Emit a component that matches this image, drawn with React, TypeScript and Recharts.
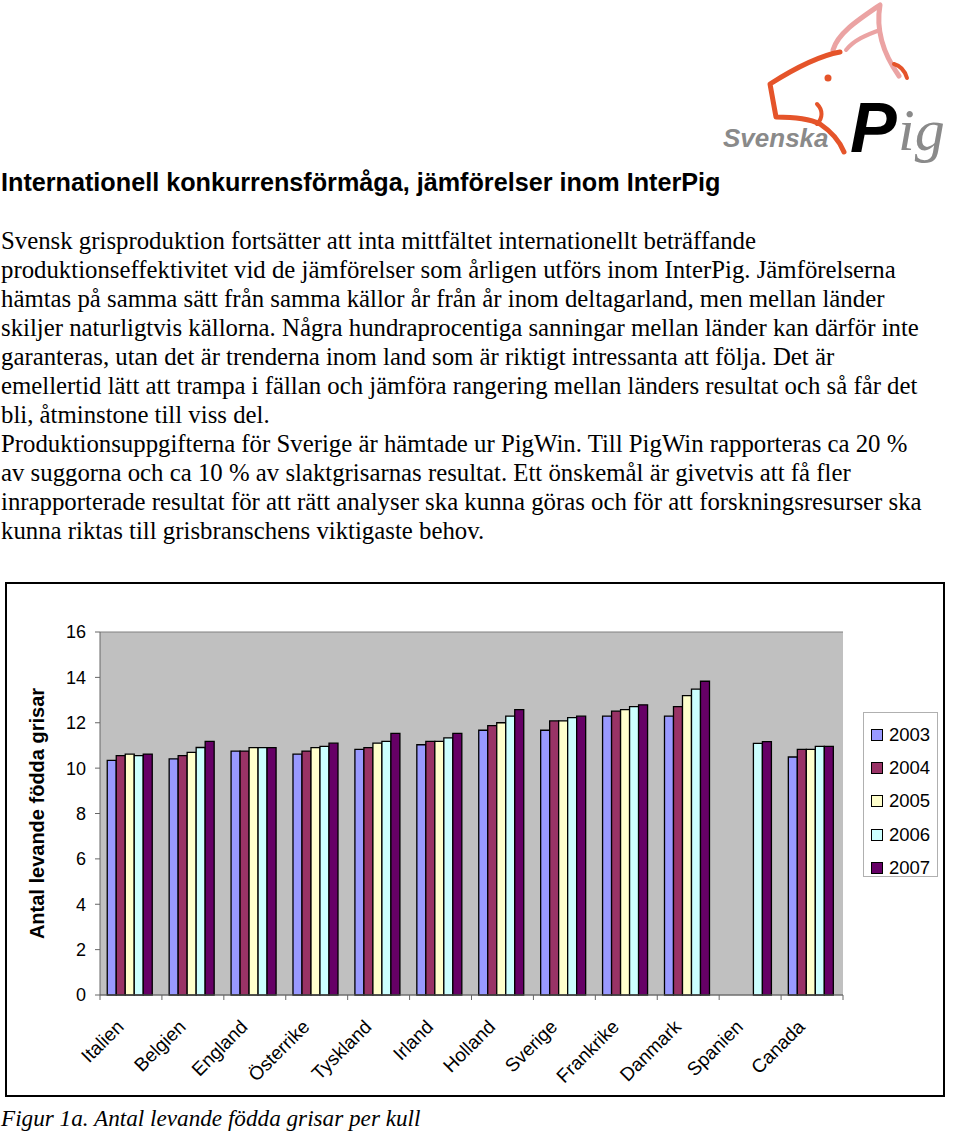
import React from 'react';
import { BarChart, Bar, XAxis, YAxis, CartesianGrid, Legend } from 'recharts';

const countries = ['Italien', 'Belgien', 'England', 'Österrike', 'Tyskland', 'Irland', 'Holland', 'Sverige', 'Frankrike', 'Danmark', 'Spanien', 'Canada'];
const years = ['2003', '2004', '2005', '2006', '2007'];
const v2003 = [10.34, 10.41, 10.75, 10.62, 10.83, 11.03, 11.67, 11.67, 12.29, 12.29, null, 10.49];
const v2004 = [10.55, 10.55, 10.75, 10.75, 10.9, 11.18, 11.87, 12.08, 12.51, 12.71, null, 10.83];
const v2005 = [10.62, 10.69, 10.9, 10.9, 11.1, 11.18, 12.0, 12.08, 12.58, 13.2, null, 10.83];
const v2006 = [10.55, 10.91, 10.9, 10.96, 11.18, 11.33, 12.29, 12.23, 12.71, 13.48, 11.09, 10.96];
const v2007 = [10.62, 11.18, 10.9, 11.1, 11.53, 11.53, 12.58, 12.29, 12.79, 13.83, 11.17, 10.96];
const yTicks = [0, 2, 4, 6, 8, 10, 12, 14, 16];
const colors = ['#9999FF', '#993366', '#FFFFCC', '#CCFFFF', '#660066'];

const titleText = 'Internationell konkurrensförmåga, jämförelser inom InterPig';
const bodyLines = [
  'Svensk grisproduktion fortsätter att inta mittfältet internationellt beträffande',
  'produktionseffektivitet vid de jämförelser som årligen utförs inom InterPig. Jämförelserna',
  'hämtas på samma sätt från samma källor år från år inom deltagarland, men mellan länder',
  'skiljer naturligtvis källorna. Några hundraprocentiga sanningar mellan länder kan därför inte',
  'garanteras, utan det är trenderna inom land som är riktigt intressanta att följa. Det är',
  'emellertid lätt att trampa i fällan och jämföra rangering mellan länders resultat och så får det',
  'bli, åtminstone till viss del.',
  'Produktionsuppgifterna för Sverige är hämtade ur PigWin. Till PigWin rapporteras ca 20 %',
  'av suggorna och ca 10 % av slaktgrisarnas resultat. Ett önskemål är givetvis att få fler',
  'inrapporterade resultat för att rätt analyser ska kunna göras och för att forskningsresurser ska',
  'kunna riktas till grisbranschens viktigaste behov.',
];
const captionText = 'Figur 1a. Antal levande födda grisar per kull';
const yLabel = 'Antal levande födda grisar';

const data = countries.map((c, i) => ({
  name: c,
  '2003': v2003[i],
  '2004': v2004[i],
  '2005': v2005[i],
  '2006': v2006[i],
  '2007': v2007[i],
}));

const FONT = '"Liberation Sans", Arial, sans-serif';
const SERIF = '"Liberation Serif", "Times New Roman", serif';

const XTick = (props: any) => {
  const { x, y, payload, index } = props;
  const half = 743 / 12 / 2;
  const tx = x - 6;
  const ty = y + 25;
  return (
    <g>
      <line x1={x - half} y1={y - 8} x2={x - half} y2={y - 3} stroke="#666" />
      {index === countries.length - 1 && (
        <line x1={x + half} y1={y - 8} x2={x + half} y2={y - 3} stroke="#666" />
      )}
      <text
        x={tx}
        y={ty}
        transform={`rotate(-45, ${tx}, ${ty})`}
        textAnchor="end"
        fontFamily={FONT}
        fontSize={19}
        fill="#000"
      >
        {payload.value}
      </text>
    </g>
  );
};

const YLabel = (props: any) => {
  const vb = props.viewBox || { x: 0, y: 0, width: 0, height: 0 };
  const cx = vb.x - 3;
  const cy = vb.y + vb.height / 2;
  return (
    <text
      x={cx}
      y={cy}
      transform={`rotate(-90, ${cx}, ${cy})`}
      textAnchor="middle"
      dominantBaseline="central"
      fontFamily={FONT}
      fontWeight="bold"
      fontSize={20}
      fill="#000"
    >
      {yLabel}
    </text>
  );
};

const LegendBox = () => (
  <div
    style={{
      border: '1px solid #b0b0b0',
      width: 75,
      height: 165,
      boxSizing: 'border-box',
      paddingTop: 5,
      background: '#fff',
    }}
  >
    {years.map((y, i) => (
      <div key={y} style={{ display: 'flex', alignItems: 'center', height: 33.4, paddingLeft: 7 }}>
        <span
          style={{
            display: 'inline-block',
            width: 10,
            height: 10,
            background: colors[i],
            border: '1px solid #000',
            marginRight: 6,
          }}
        />
        <span style={{ fontFamily: FONT, fontSize: 18.5, color: '#000' }}>{y}</span>
      </div>
    ))}
  </div>
);

const Logo = () => (
  <svg width={260} height={180} style={{ position: 'absolute', left: 700, top: 0 }}>
    <g fill="none" strokeLinecap="round" strokeLinejoin="round">
      <path d="M133,50 C138,33 158,20 180,5 C176,28 182,52 199,76" stroke="#EBA3A3" strokeWidth={5} />
      <path d="M146,50 C154,40 166,35 180,30" stroke="#EBA3A3" strokeWidth={4} />
      <path d="M140,52 C118,56 92,70 70,84 L76,117 C92,117 108,118 120,124 C132,132 140,142 144,152" stroke="#E5542A" strokeWidth={5} />
      <path d="M117,104 C123,110 123,118 117,124" stroke="#E5542A" strokeWidth={4} />
      <path d="M194,64 C201,66 205,71 207,78" stroke="#E5542A" strokeWidth={4} />
    </g>
    <circle cx={128} cy={78} r={3.5} fill="#E5542A" />
    <text x={23} y={147} fontFamily={FONT} fontWeight="bold" fontStyle="italic" fontSize={26} fill="#8a8a8a">Svenska</text>
    <text x={150} y={152} fontFamily={FONT} fontWeight="900" fontStyle="italic" fontSize={70} fill="#000">P</text>
    <text x={198} y={150} fontFamily={SERIF} fontStyle="italic" fontSize={60} fill="#8a8a8a">ig</text>
  </svg>
);

export default function App() {
  return (
    <div style={{ position: 'absolute', left: 0, top: 0, width: 960, height: 1131, background: '#fff', overflow: 'hidden' }}>
      <Logo />
      <div style={{ position: 'absolute', left: 1, top: 167, fontFamily: FONT, fontWeight: 'bold', fontSize: 25.2, lineHeight: '30px', whiteSpace: 'nowrap' }}>
        {titleText}
      </div>
      {bodyLines.map((l, i) => (
        <div
          key={i}
          style={{ position: 'absolute', left: 1, top: 226 + i * 29, fontFamily: SERIF, fontSize: 24.8, lineHeight: '29px', whiteSpace: 'nowrap' }}
        >
          {l}
        </div>
      ))}
      <div style={{ position: 'absolute', left: 5, top: 582, width: 936, height: 511, border: '2px solid #000' }}>
        <BarChart
          width={936}
          height={511}
          data={data}
          margin={{ top: 48, right: 100, left: 33, bottom: 10 }}
          barCategoryGap="11.7%"
          barGap={0}
        >
          <CartesianGrid vertical={false} stroke="#808080" fill="#C0C0C0" fillOpacity={1} />
          <XAxis
            dataKey="name"
            interval={0}
            tick={<XTick />}
            tickLine={false}
            axisLine={{ stroke: '#666' }}
            height={90}
          />
          <YAxis
            yAxisId="left"
            domain={[0, 16]}
            ticks={yTicks}
            width={60}
            tick={{ fontFamily: FONT, fontSize: 18, fill: '#000', dx: -7 }}
            tickLine={{ stroke: '#666' }}
            tickSize={5}
            axisLine={{ stroke: '#666' }}
            interval={0}
            label={<YLabel />}
          />
          <YAxis
            yAxisId="right"
            orientation="right"
            domain={[0, 16]}
            width={0}
            tick={false}
            tickLine={false}
            axisLine={{ stroke: '#808080' }}
          />
          <Legend
            verticalAlign="middle"
            align="center"
            layout="horizontal"
            content={<LegendBox />}
            wrapperStyle={{ position: 'absolute', left: 856, top: 128, width: 75, height: 165 }}
          />
          {years.map((y, i) => (
            <Bar
              key={y}
              yAxisId="left"
              dataKey={y}
              fill={colors[i]}
              stroke="#000"
              strokeWidth={1.3}
              isAnimationActive={false}
            />
          ))}
        </BarChart>
      </div>
      <div style={{ position: 'absolute', left: 1, top: 1104, fontFamily: SERIF, fontStyle: 'italic', fontSize: 23.2, lineHeight: '28px', whiteSpace: 'nowrap' }}>
        {captionText}
      </div>
    </div>
  );
}
